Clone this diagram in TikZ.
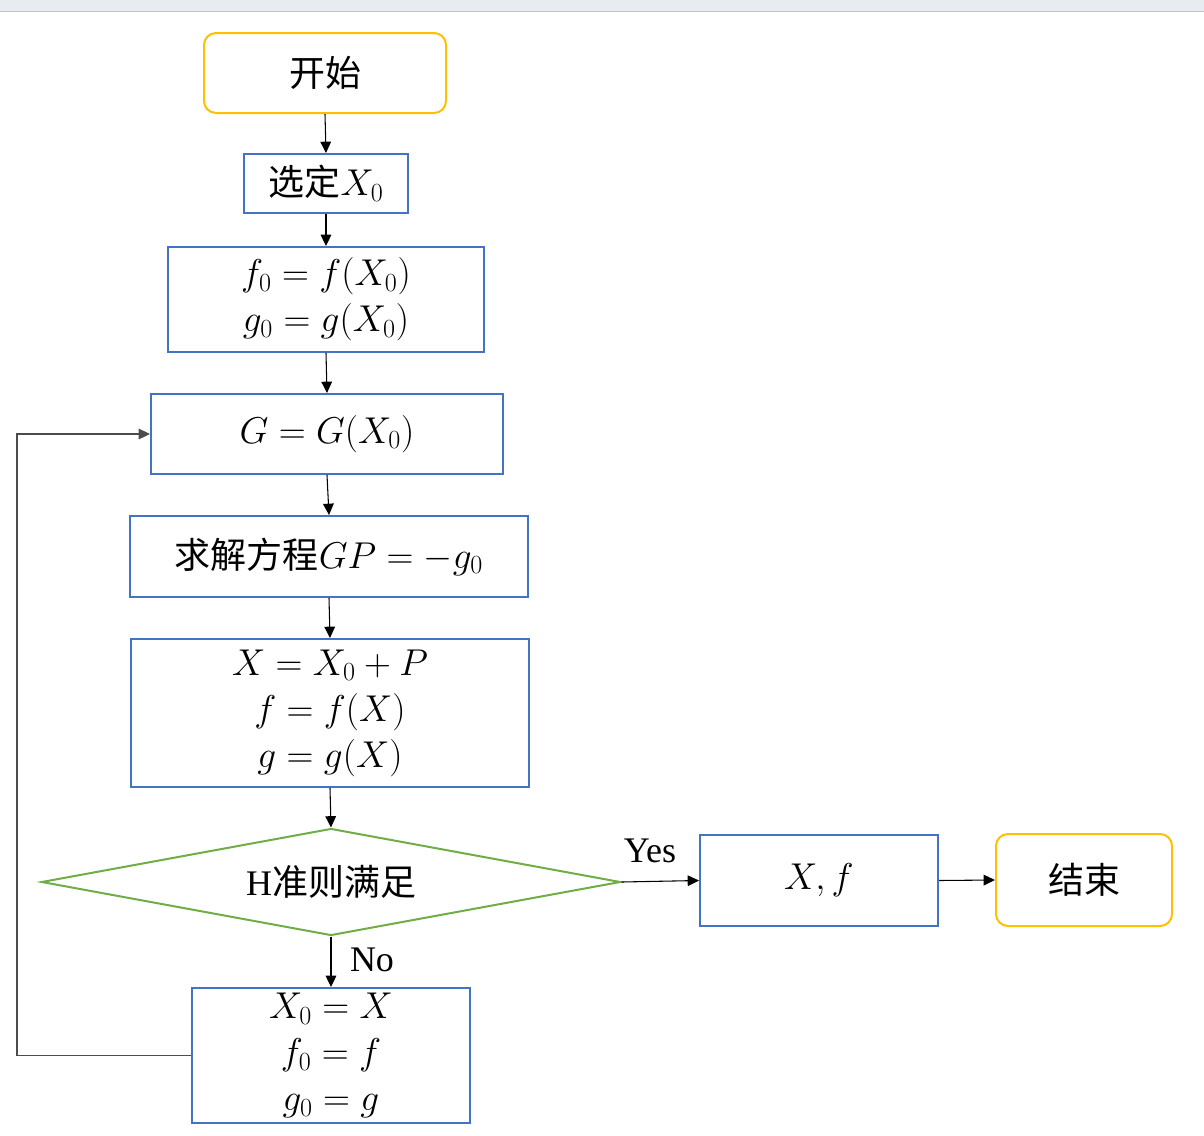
\RequirePackage{fix-cm}
\documentclass[tikz,border=0pt]{standalone}
\usepackage{fontspec}
\setmainfont{Liberation Serif}
\newfontfamily\cjk{Noto Sans CJK SC}
\usetikzlibrary{shapes.geometric,arrows.meta}
\definecolor{boxblue}{HTML}{4472C4}
\definecolor{startyellow}{HTML}{FFC000}
\definecolor{diagreen}{HTML}{70AD47}
\definecolor{topgrey}{HTML}{E8ECF0}
\definecolor{topline}{HTML}{C4C4C4}
\tikzset{
  procbox/.style={draw=boxblue, line width=1.5pt, rectangle, inner sep=0pt, align=center,
    font=\fontsize{28pt}{34.5pt}\selectfont},
  termbox/.style={draw=startyellow, line width=1.5pt, rectangle, rounded corners=9pt, inner sep=0pt,
    font=\fontsize{27pt}{34pt}\selectfont\cjk},
  decbox/.style={draw=diagreen, line width=1.5pt, diamond, inner sep=0pt, aspect=5.4,
    font=\fontsize{27pt}{34pt}\selectfont},
  arr/.style={draw=black, line width=0.8pt, -{Triangle[length=8.5pt,width=8pt]}},
  lbl/.style={font=\fontsize{27pt}{32pt}\selectfont, inner sep=0pt},
}
\begin{document}
\begin{tikzpicture}[x=0.75pt,y=-0.75pt]
\useasboundingbox (0,0) rectangle (1204,1136);
\fill[topgrey] (0,0) rectangle (1204,11);
\draw[topline, line width=1pt] (0,11.5) -- (1204,11.5);

\node[termbox, minimum width=242*0.75pt, minimum height=80*0.75pt] (start) at (325,73) {开始};
\node[procbox, minimum width=164*0.75pt, minimum height=59*0.75pt] (sel) at (326,183.5) {{\fontsize{27pt}{34pt}\selectfont\cjk 选定}$X_0$};
\node[procbox, minimum width=316*0.75pt, minimum height=105*0.75pt] (f0) at (326,299.5) {$f_0 = f(X_0)$\\$g_0 = g(X_0)$};
\node[procbox, minimum width=352*0.75pt, minimum height=80*0.75pt] (G) at (327,434) {$G = G(X_0)$};
\node[procbox, minimum width=398*0.75pt, minimum height=81*0.75pt] (solve) at (329,556.5) {{\fontsize{27pt}{34pt}\selectfont\cjk 求解方程}$GP = -g_0$};
\node[procbox, minimum width=398*0.75pt, minimum height=148*0.75pt] (upd) at (330,713) {$X = X_0 + P$\\$f = f(X)$\\$g = g(X)$};
\node[decbox, minimum width=579*0.75pt, minimum height=107*0.75pt] (dec) at (331,882) {H{\cjk 准则满足}};
\node[procbox, minimum width=238*0.75pt, minimum height=91*0.75pt] (res) at (819,880.5) {$X, f$};
\node[termbox, minimum width=176*0.75pt, minimum height=92*0.75pt] (end) at (1084,880) {结束};
\node[procbox, minimum width=278*0.75pt, minimum height=135*0.75pt] (last) at (331,1055.5) {$X_0 = X$\\$f_0 = f$\\$g_0 = g$};

\coordinate (loop) at (17,1055.5);

\draw[arr] (start.south) -- (sel.north);
\draw[arr] (sel.south) -- (f0.north);
\draw[arr] (f0.south) -- (G.north);
\draw[arr] (G.south) -- (solve.north);
\draw[arr] (solve.south) -- (upd.north);
\draw[arr] (upd.south) -- (dec.north);
\draw[arr] (dec.east) -- (res.west);
\draw[arr] (res.east) -- (end.west);
\draw[arr] (dec.south) -- (last.north);
\draw[arr, draw=black!70] (last.west) -- (loop) |- (G.west);

\node[lbl] (yes) at (650,851) {Yes};
\node[lbl] (no) at (372,960) {No};
\end{tikzpicture}
\end{document}
